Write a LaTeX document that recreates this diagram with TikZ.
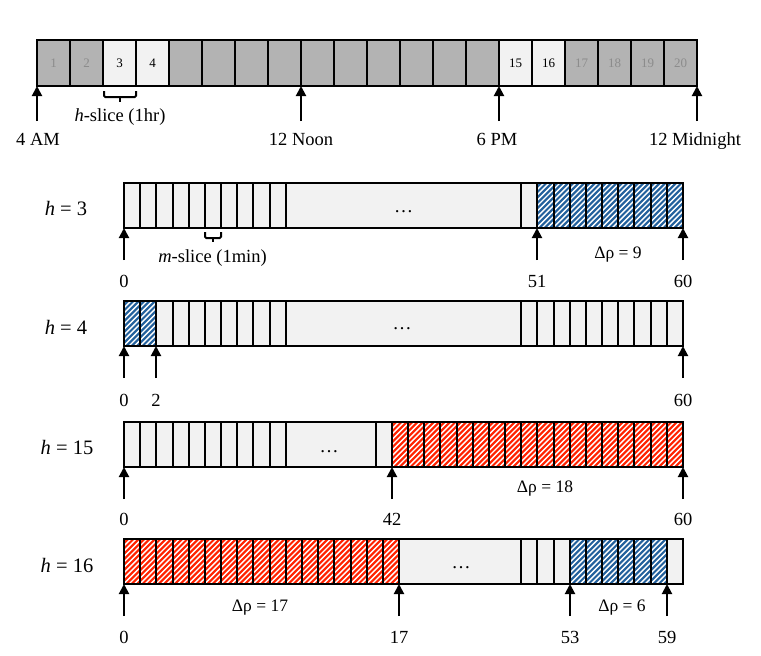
\documentclass[tikz,border=0pt]{standalone}
\usepackage{fontspec}
\setmainfont{Liberation Serif}
\usetikzlibrary{arrows.meta}
\definecolor{cellgray}{HTML}{B3B3B3}
\definecolor{celllight}{HTML}{F2F2F2}
\definecolor{numgray}{HTML}{8C8C8C}
\definecolor{hblue}{HTML}{22609C}
\definecolor{hred}{HTML}{FF2200}
\tikzset{
  topcell/.style={draw=black, line width=2pt, minimum width=33pt, minimum height=46pt, inner sep=0pt, outer sep=0pt,
    font=\fontsize{13}{14}\selectfont},
  barbox/.style={draw=black, line width=2pt, minimum width=559pt, minimum height=45pt, inner sep=0pt, outer sep=0pt},
  cellline/.style={draw=black, line width=2pt},
  uparrow/.style={-{Triangle[width=10pt,length=10pt]}, line width=2pt},
  lbl/.style={font=\fontsize{18.5}{20}\selectfont, anchor=base, inner sep=0pt},
  dlbl/.style={font=\fontsize{17.5}{19}\selectfont, anchor=base, inner sep=0pt},
  hlbl/.style={font=\fontsize{20.5}{22}\selectfont, anchor=base, inner sep=0pt},
  dotslbl/.style={font=\fontsize{19}{20}\selectfont, anchor=base, inner sep=0pt},
  bracket/.style={line width=2pt, rounded corners=1.2pt},
}
\newcommand\hatchfill[5]{%
  \begin{scope}
    \clip (#1,#3) rectangle (#2,#4);
    \fill[#5] (#1,#3) rectangle (#2,#4);
    \pgfmathtruncatemacro\nlines{(#2-#1+52)/5.4}
    \foreach \k in {0,...,\nlines} \draw[white, line width=1.4pt] ({#1-50+\k*5.4},{#4+1}) -- ++(52,-52);
  \end{scope}}
\newcommand\uparr[3]{%
  \coordinate (#1-t) at (#2,#3);
  \coordinate (#1-s) at (#2,{#3+32});
  \draw[uparrow] (#1-s) -- (#1-t);}
% dividers: first index, last index, start x, top y
\newcommand\dividers[4]{%
  \foreach \k in {#1,...,#2} {%
    \pgfmathsetmacro\xx{round(#3+\k*16.18)}
    \draw[cellline] (\xx,#4) -- ++(0,45);}}
\begin{document}
\begin{tikzpicture}[x=1pt,y=-1pt]
\useasboundingbox (0,0) rectangle (761,656);

% ---------- top bar ----------
\foreach \i in {1,2,17,18,19,20}
  \node[topcell, fill=cellgray, text=numgray] (hc\i) at ({37+33*\i-16.5},63) {\i};
\foreach \i in {5,...,14}
  \node[topcell, fill=cellgray] (hc\i) at ({37+33*\i-16.5},63) {};
\foreach \i in {3,4,15,16}
  \node[topcell, fill=celllight] (hc\i) at ({37+33*\i-16.5},63) {\i};

\coordinate (am4s) at (37,121);
\coordinate (noons) at (301,121);
\coordinate (pm6s) at (499,121);
\coordinate (mids) at (697,121);
\draw[uparrow] (am4s) -- (hc1.south west);
\draw[uparrow] (noons) -- (hc8.south east);
\draw[uparrow] (pm6s) -- (hc14.south east);
\draw[uparrow] (mids) -- (hc20.south east);
\node[lbl] (l4am) at (38,145) {4 AM};
\node[lbl] (lnoon) at (301,145) {12 Noon};
\node[lbl] (l6pm) at (497,145) {6 PM};
\node[lbl] (lmid) at (695,145) {12 Midnight};

\draw[bracket] (104,91) -- (104,97) -- (136,97) -- (136,91);
\draw[bracket] (120,97) -- (120,102);
\node[lbl] (hslice) at (120,121) {\textit{h}-slice (1hr)};

% ---------- row h = 3 ----------
\node[hlbl] (h3) at (66,215.5) {\textit{h} = 3};
\node[barbox, fill=celllight] (bar3) at (403.5,205.5) {};
\hatchfill{537}{683}{183}{228}{hblue}
\dividers{1}{10}{124}{183}
\dividers{0}{9}{521.2}{183}
\draw[cellline] (bar3.north west) rectangle (bar3.south east);
\node[dotslbl] (d3) at (403.5,212) {…};
\uparr{r3a}{124}{228}
\uparr{r3b}{537}{228}
\uparr{r3c}{683}{228}
\draw[bracket] (205,232) -- (205,238) -- (221,238) -- (221,232);
\draw[bracket] (213,238) -- (213,242);
\node[lbl] (mslice) at (212.5,262) {\textit{m}-slice (1min)};
\node[dlbl] (dr3) at (618,258) {Δρ = 9};
\node[lbl] (n3a) at (124,287) {0};
\node[lbl] (n3b) at (537,287) {51};
\node[lbl] (n3c) at (683,287) {60};

% ---------- row h = 4 ----------
\node[hlbl] (h4) at (66,334) {\textit{h} = 4};
\node[barbox, fill=celllight] (bar4) at (403.5,323.5) {};
\hatchfill{124}{156}{301}{346}{hblue}
\dividers{1}{10}{124}{301}
\dividers{0}{9}{521.2}{301}
\draw[cellline] (bar4.north west) rectangle (bar4.south east);
\node[dotslbl] (d4) at (402,329) {…};
\uparr{r4a}{124}{346}
\uparr{r4b}{156}{346}
\uparr{r4c}{683}{346}
\node[lbl] (n4a) at (124,406) {0};
\node[lbl] (n4b) at (156,406) {2};
\node[lbl] (n4c) at (683,406) {60};

% ---------- row h = 15 ----------
\node[hlbl] (h15) at (67,454.5) {\textit{h} = 15};
\node[barbox, fill=celllight] (bar15) at (403.5,444.5) {};
\hatchfill{392}{683}{422}{467}{hred}
\dividers{1}{10}{124}{422}
\draw[cellline] (376,422) -- ++(0,45);
\dividers{0}{17}{391.8}{422}
\draw[cellline] (bar15.north west) rectangle (bar15.south east);
\node[dotslbl] (d15) at (329,452) {…};
\uparr{r15a}{124}{467}
\uparr{r15b}{392}{467}
\uparr{r15c}{683}{467}
\node[dlbl] (dr15) at (545,492) {Δρ = 18};
\node[lbl] (n15a) at (124,525) {0};
\node[lbl] (n15b) at (392,525) {42};
\node[lbl] (n15c) at (683,525) {60};

% ---------- row h = 16 ----------
\node[hlbl] (h16) at (67,572.5) {\textit{h} = 16};
\node[barbox, fill=celllight] (bar16) at (403.5,561.5) {};
\hatchfill{124}{399}{539}{584}{hred}
\hatchfill{570}{667}{539}{584}{hblue}
\dividers{1}{17}{124}{539}
\dividers{0}{9}{521.2}{539}
\draw[cellline] (bar16.north west) rectangle (bar16.south east);
\node[dotslbl] (d16) at (461,568) {…};
\uparr{r16a}{124}{584}
\uparr{r16b}{399}{584}
\uparr{r16c}{570}{584}
\uparr{r16d}{667}{584}
\node[dlbl] (dr17) at (260,611) {Δρ = 17};
\node[dlbl] (dr6) at (622,611) {Δρ = 6};
\node[lbl] (n16a) at (124,643) {0};
\node[lbl] (n16b) at (399,643) {17};
\node[lbl] (n16c) at (570,643) {53};
\node[lbl] (n16d) at (667,643) {59};
\end{tikzpicture}
\end{document}
